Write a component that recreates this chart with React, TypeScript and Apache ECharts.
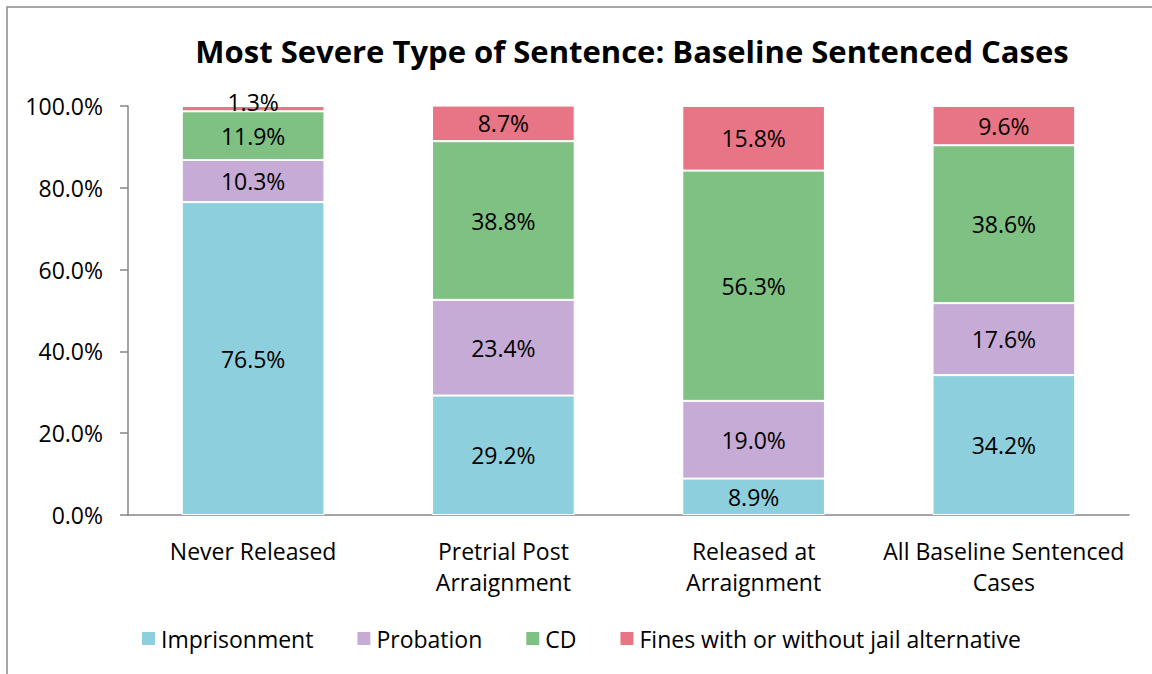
import React, { useEffect, useRef } from "react";
import * as echarts from "echarts";

const categories = [
  "Never Released",
  "Pretrial Post\nArraignment",
  "Released at\nArraignment",
  "All Baseline Sentenced\nCases",
];
const seriesNames = ["Imprisonment", "Probation", "CD", "Fines with or without jail alternative"];
const imprisonment = [76.5, 29.2, 8.9, 34.2];
const probation = [10.3, 23.4, 19.0, 17.6];
const cd = [11.9, 38.8, 56.3, 38.6];
const fines = [1.3, 8.7, 15.8, 9.6];
const colors = ["#8ECFDD", "#C6ABD6", "#7FC183", "#E87586"];
const yTicks = [0, 20, 40, 60, 80, 100];

const FONT = "'Open Sans', 'Liberation Sans', sans-serif";

export default function App() {
  const ref = useRef<HTMLDivElement>(null);
  useEffect(() => {
    document.body.style.margin = "0";
    const chart = echarts.init(ref.current!, null, { renderer: "svg" });
    const data = [imprisonment, probation, cd, fines];
    chart.setOption({
      animation: false,
      textStyle: { fontFamily: FONT },
      title: {
        text: "Most Severe Type of Sentence: Baseline Sentenced Cases",
        left: 627,
        top: 30,
        textAlign: "center",
        textStyle: { fontSize: 31, fontWeight: "bold", color: "#000", fontFamily: FONT },
      },
      graphic: [
        {
          type: "rect",
          shape: { x: 7, y: 7, width: 1160, height: 680 },
          style: { fill: "none", stroke: "#8A8A8A", lineWidth: 1.5 },
          silent: true,
        },
      ],
      legend: {
        top: 627,
        left: 140,
        padding: 0,
        itemWidth: 15,
        itemHeight: 15,
        itemGap: 42,
        icon: "rect",
        textStyle: { fontSize: 23, color: "#000", fontFamily: FONT },
        data: seriesNames,
      },
      grid: { left: 128, right: 23, top: 106, bottom: 159 },
      xAxis: {
        type: "category",
        data: categories,
        axisLine: { lineStyle: { color: "#868686", width: 1.5 } },
        axisTick: { show: false },
        axisLabel: { fontSize: 23, color: "#000", margin: 20, lineHeight: 31, interval: 0 },
      },
      yAxis: {
        type: "value",
        min: 0,
        max: 100,
        interval: 20,
        axisLine: { show: true, lineStyle: { color: "#868686", width: 1.5 } },
        axisTick: { show: true, length: 8, lineStyle: { color: "#868686", width: 1.5 } },
        splitLine: { show: false },
        axisLabel: {
          fontSize: 23,
          color: "#000",
          margin: 25,
          formatter: (v: number) => (yTicks.includes(v) ? v.toFixed(1) + "%" : ""),
        },
      },
      series: seriesNames.map((name, i) => ({
        name,
        type: "bar",
        stack: "total",
        barWidth: "57%",
        data: data[i].map((v) =>
          v < 3 ? { value: v, label: { position: "top", distance: -7 } } : v
        ),
        itemStyle: { color: colors[i], borderColor: "#fff", borderWidth: 1 },
        label: {
          show: true,
          position: "inside",
          fontSize: 23,
          color: "#000",
          fontFamily: FONT,
          formatter: (p: any) => p.value.toFixed(1) + "%",
        },
      })),
    });
    return () => chart.dispose();
  }, []);
  return <div ref={ref} style={{ width: 1152, height: 674 }} />;
}
